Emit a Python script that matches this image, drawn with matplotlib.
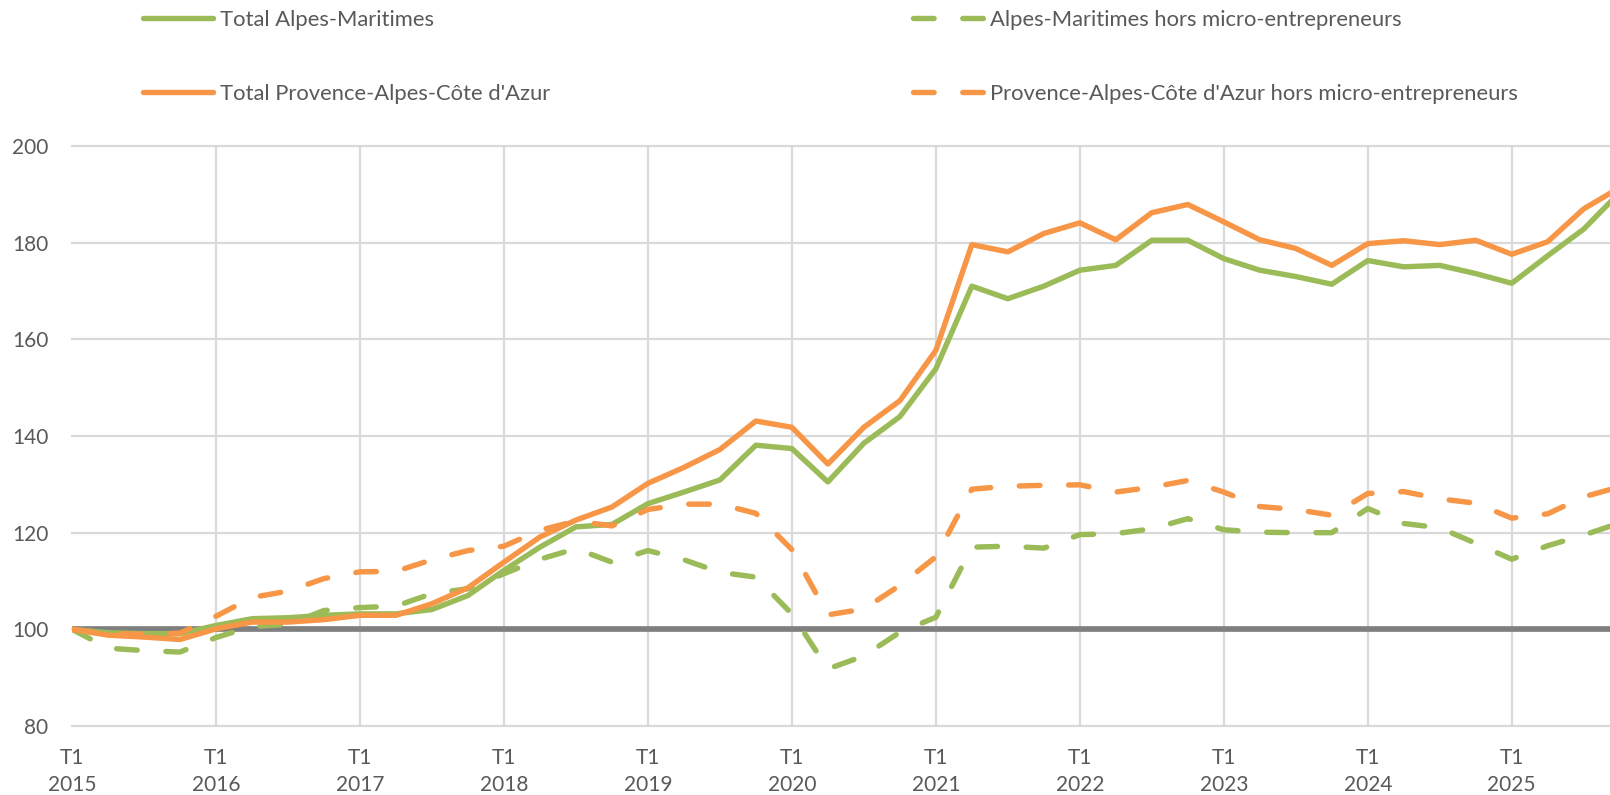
import matplotlib
matplotlib.use("Agg")
import matplotlib.pyplot as plt
from matplotlib.lines import Line2D

plt.rcParams['font.family'] = ['Lato', 'DejaVu Sans']

# quarterly index, base 100 = T1 2015
years = list(range(2015, 2026))
quarters = [f"T{q} {y}" for y in years for q in range(1, 5)]

total_am = [100, 99.3, 99.1, 99.1,
            100.8, 102.2, 102.4, 102.9,
            103.2, 103.2, 104.1, 107.0,
            112.2, 117.0, 121.2, 121.7,
            126.0, 128.4, 130.9, 138.1,
            137.4, 130.5, 138.5, 144.0,
            153.9, 171.0, 168.4, 171.0,
            174.3, 175.3, 180.5, 180.5,
            176.7, 174.3, 173.0, 171.4,
            176.3, 175.0, 175.3, 173.6,
            171.6, 177.3, 182.8, 190.4]

am_hors_me = [100, 96.1, 95.6, 95.3,
              98.3, 100.6, 101.0, 103.9,
              104.5, 104.8, 107.4, 108.4,
              111.5, 114.5, 116.7, 113.9,
              116.3, 114.4, 111.8, 110.8,
              103.2, 91.8, 94.5, 99.4,
              102.5, 117.0, 117.2, 116.8,
              119.6, 119.8, 120.8, 122.9,
              120.6, 120.1, 120.0, 120.0,
              125.0, 121.9, 121.0, 117.8,
              114.5, 117.3, 119.5, 122.0]

total_paca = [100, 98.8, 98.4, 97.9,
              100.1, 101.5, 101.5, 102.0,
              102.9, 102.9, 105.3, 108.6,
              113.9, 119.1, 122.6, 125.3,
              130.2, 133.5, 137.2, 143.1,
              141.8, 134.2, 141.8, 147.3,
              157.7, 179.6, 178.1, 181.9,
              184.1, 180.6, 186.2, 187.9,
              184.3, 180.6, 178.8, 175.3,
              179.8, 180.4, 179.6, 180.5,
              177.6, 180.2, 187.0, 191.4]

paca_hors_me = [100, 99.1, 99.0, 99.2,
                102.7, 106.6, 107.9, 110.5,
                111.9, 112.0, 114.4, 116.3,
                117.2, 120.5, 122.4, 121.4,
                124.8, 125.9, 125.9, 124.0,
                116.5, 103.0, 104.2, 109.1,
                115.0, 129.0, 129.6, 129.8,
                129.9, 128.4, 129.4, 130.8,
                128.4, 125.4, 124.8, 123.6,
                128.1, 128.5, 127.0, 126.1,
                123.0, 123.9, 127.4, 129.5]

tick_labels = [f"T1\n{y}" for y in years]

green = '#9BBB59'
orange = '#F79646'
grey_txt = '#595959'
fs = 15

x = list(range(len(quarters)))
W, H = 1610, 795
fig = plt.figure(figsize=(W / 100, H / 100), dpi=100)
left = 72 / W
ax = fig.add_axes([left, 1 - 726 / H, 1 - left, (726 - 146) / H])

lw = 3.9
dash = (3.8, 5.3)
ax.axhline(100, color='#7F7F7F', lw=4.1, zorder=2)
ax.plot(x, total_am, color=green, lw=lw, solid_joinstyle='round', zorder=3)
ax.plot(x, am_hors_me, color=green, lw=lw, dashes=dash,
        dash_capstyle='round', dash_joinstyle='round', zorder=3)
ax.plot(x, total_paca, color=orange, lw=lw, solid_joinstyle='round', zorder=3)
ax.plot(x, paca_hors_me, color=orange, lw=lw, dashes=dash,
        dash_capstyle='round', dash_joinstyle='round', zorder=3)

ax.set_xlim(0, 42.73)
ax.set_ylim(80, 200)
ax.set_yticks(range(80, 201, 20))
ax.set_xticks(range(0, len(quarters), 4))
ax.set_xticklabels(tick_labels, linespacing=1.4)

# grid lines
for yv in range(80, 201, 20):
    ax.axhline(yv, color='#D9D9D9', lw=1.6, zorder=1, clip_on=False)
for xv in range(4, 44, 4):
    ax.axvline(xv, color='#D9D9D9', lw=1.6, zorder=1)

for s in ax.spines.values():
    s.set_visible(False)
ax.tick_params(axis='both', length=0, labelsize=fs, colors=grey_txt)
ax.tick_params(axis='y', pad=17)
ax.tick_params(axis='x', pad=16)

# legend, two columns placed by hand
leg_kw = dict(frameon=False, fontsize=15.8, labelcolor=grey_txt, handlelength=3.2,
              handletextpad=0.33, labelspacing=2.45, borderaxespad=0, borderpad=0)
h_solid = [Line2D([], [], color=green, lw=lw, solid_capstyle='round'),
           Line2D([], [], color=orange, lw=lw, solid_capstyle='round')]
h_dash = [Line2D([], [], color=green, lw=lw, dashes=dash, dash_capstyle='round'),
          Line2D([], [], color=orange, lw=lw, dashes=dash, dash_capstyle='round')]
fig.legend(h_solid, ["Total Alpes-Maritimes", "Total Provence-Alpes-Côte d'Azur"],
           loc='upper left', bbox_to_anchor=(143 / W, 1 - 10 / H), **leg_kw)
fig.legend(h_dash, ["Alpes-Maritimes hors micro-entrepreneurs",
                    "Provence-Alpes-Côte d'Azur hors micro-entrepreneurs"],
           loc='upper left', bbox_to_anchor=(913 / W, 1 - 10 / H), **leg_kw)

fig.savefig('out.png', dpi=100)
